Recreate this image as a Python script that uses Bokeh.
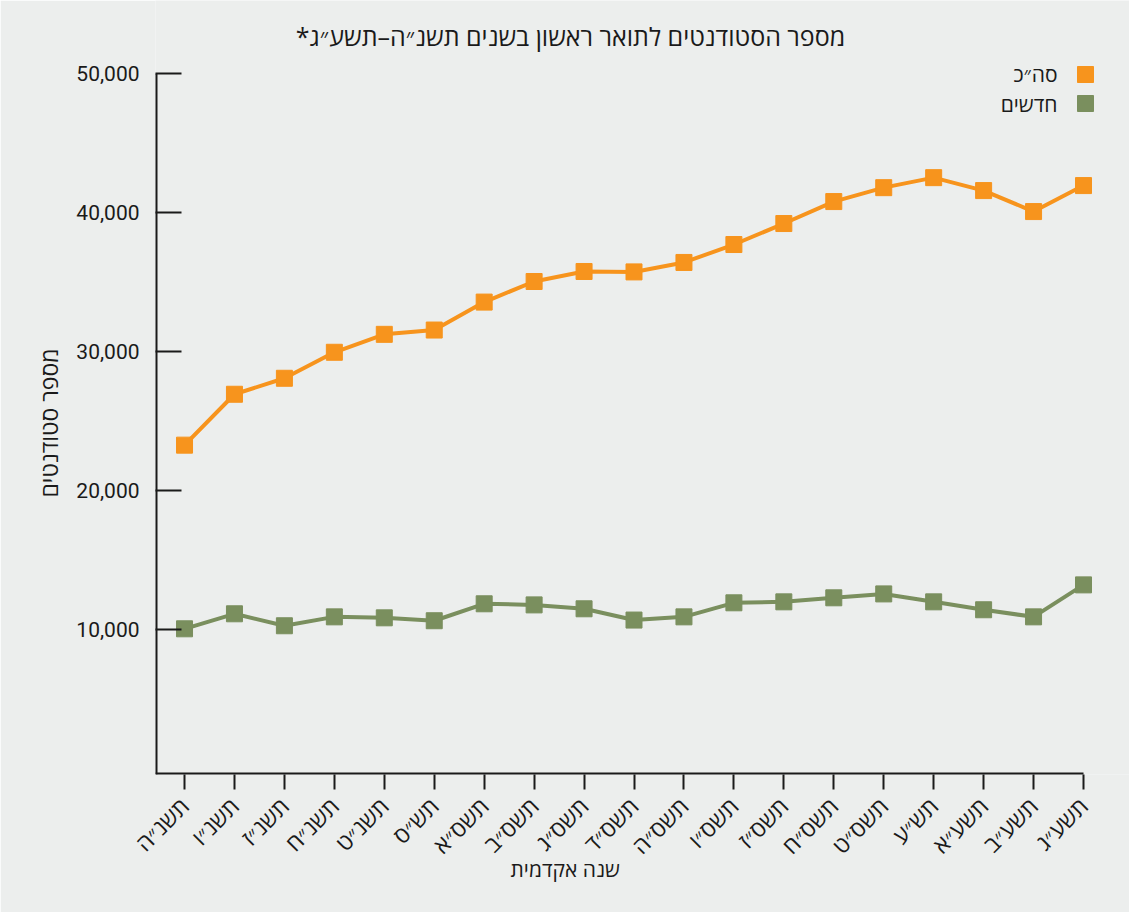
import math
from bokeh.plotting import figure
from bokeh.models import (Range1d, FixedTicker, NumeralTickFormatter, Legend, LegendItem,
                          Label, Title)
from bokeh.embed import file_html
from bokeh.resources import INLINE

years = ["תשנ״ה", "תשנ״ו", "תשנ״ז", "תשנ״ח", "תשנ״ט", "תש״ס", "תשס״א", "תשס״ב", "תשס״ג",
         "תשס״ד", "תשס״ה", "תשס״ו", "תשס״ז", "תשס״ח", "תשס״ט", "תש״ע", "תשע״א", "תשע״ב", "תשע״ג"]
total = [23280, 26940, 28090, 29960, 31250, 31560, 33570, 35050, 35770, 35740,
         36420, 37710, 39220, 40800, 41800, 42520, 41590, 40080, 41950]
new = [10070, 11150, 10290, 10930, 10860, 10650, 11870, 11790, 11510, 10700,
       10930, 11940, 12010, 12300, 12580, 12010, 11440, 10930, 13230]
y_ticks = [10000, 20000, 30000, 40000, 50000]

RLM = "\u200f"
title_text = "מספר הסטודנטים לתואר ראשון בשנים תשנ״ה–תשע״ג*" + RLM
x_title = "שנה אקדמית"
y_title = "מספר סטודנטים"
name_total = "סה״כ"
name_new = "חדשים"

BG = "#ECEEED"
ORANGE = "#F7941D"
GREEN = "#7A8F5E"
INK = "#1A1A1A"
HEB = "Open Sans"
NUM = "Roboto"

x = list(range(len(years)))
X0, X1 = -0.581, 18.921
Y0, Y1 = -409, 55262

p = figure(width=1129, height=912, output_backend="svg", toolbar_location=None,
           x_range=Range1d(X0, X1), y_range=Range1d(Y0, Y1),
           min_border_left=155, min_border_right=0, min_border_top=0, min_border_bottom=138)
p.title.visible = False
p.background_fill_color = BG
p.border_fill_color = BG
p.outline_line_color = None
p.grid.visible = False

# axis lines (limited to the data extent, as in the reference)
p.segment(x0=[X0, X0], y0=[Y0, Y0], x1=[X0, x[-1]], y1=[y_ticks[-1], Y0],
          line_width=4, line_color=INK)

lt = p.line(x, total, line_width=4, color=ORANGE)
st = p.scatter(x, total, marker="square", size=16, color=ORANGE)
ln = p.line(x, new, line_width=4, color=GREEN)
sn = p.scatter(x, new, marker="square", size=16, color=GREEN)

xa = p.xaxis[0]
xa.ticker = FixedTicker(ticks=x)
xa.major_label_overrides = {i: years[i] for i in x}
xa.major_label_orientation = math.pi / 4
xa.major_tick_in = 0
xa.major_tick_out = 15
xa.minor_tick_line_color = None
xa.axis_line_color = None
xa.major_tick_line_width = 2
xa.major_tick_line_color = INK
xa.major_label_text_font = HEB
xa.major_label_text_font_size = "23px"
xa.major_label_text_color = INK
xa.major_label_standoff = 12

ya = p.yaxis[0]
ya.ticker = FixedTicker(ticks=y_ticks)
ya.formatter = NumeralTickFormatter(format="0,0")
ya.major_tick_in = 26
ya.major_tick_out = 0
ya.minor_tick_line_color = None
ya.axis_line_color = None
ya.major_tick_line_width = 2
ya.major_tick_line_color = INK
ya.major_label_text_font = NUM
ya.major_label_text_font_size = "21px"
ya.major_label_text_color = INK
ya.major_label_standoff = 16

p.add_layout(Title(text=y_title, align="left", offset=277, standoff=18,
                   text_font=HEB, text_font_size="23px", text_font_style="normal",
                   text_color=INK), "left")
p.add_layout(Title(text=x_title, align="left", offset=355, standoff=-42,
                   vertical_align="top",
                   text_font=HEB, text_font_size="21px", text_font_style="normal",
                   text_color=INK), "below")

p.add_layout(Label(x=415, y=739, x_units="screen", y_units="screen", text=title_text,
                   text_align="center", text_baseline="middle", text_font=HEB,
                   text_font_size="25px", text_color=INK))

# legend: swatches via Legend, labels to the left (right-to-left layout)
for rend, ly in ((st, 680), (sn, 651)):
    lg = Legend(items=[LegendItem(label=" ", renderers=[rend])], location=(910, ly),
                glyph_width=40, glyph_height=40, label_height=10, label_width=1,
                label_standoff=0, padding=0, margin=0, border_line_color=None,
                background_fill_alpha=0, label_text_font_size="6px")
    p.add_layout(lg, "center")
for txt, ty in ((name_total, 701), (name_new, 671)):
    p.add_layout(Label(x=902, y=ty, x_units="screen", y_units="screen", text=txt,
                       text_align="right", text_baseline="middle", text_font=HEB,
                       text_font_size="21px", text_color=INK))

open("out.html", "w").write(file_html(p, INLINE))
